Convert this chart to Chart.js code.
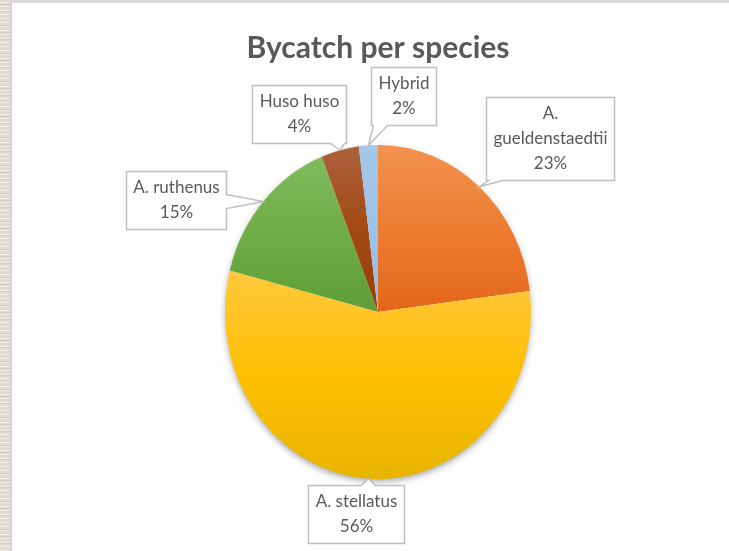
<!DOCTYPE html>
<html>
<head>
<meta charset="utf-8">
<title>Bycatch per species</title>
<script src="https://cdn.jsdelivr.net/npm/chart.js"></script>
<style>
  html, body { margin: 0; padding: 0; background: #fefefe; }
  #wrap { position: relative; width: 729px; height: 551px; overflow: hidden; }
  /* textured slide edge on the left */
  #strip {
    position: absolute; left: 0; top: 0; width: 10px; height: 551px;
    background-color: #e2dad0;
    background-image:
      repeating-linear-gradient(0deg, rgba(255,255,255,0.55) 0px, rgba(255,255,255,0.55) 1px, transparent 1px, transparent 4px),
      repeating-linear-gradient(0deg, rgba(170,160,150,0.25) 0px, rgba(170,160,150,0.25) 1px, transparent 1px, transparent 7px);
    border-right: 2px solid #d5d5d5;
  }
  #topline { position: absolute; left: 12px; top: 0; width: 717px; height: 3px; background: #dadada; }
  canvas { position: absolute; left: 0; top: 0; }
</style>
</head>
<body>
<div id="wrap">
  <div id="strip"></div>
  <div id="topline"></div>
  <canvas id="pie-chartcanvas" width="729" height="551"></canvas>
</div>
<script>
// pie chart data
var categories = ["A. gueldenstaedtii", "A. stellatus", "A. ruthenus", "Huso huso", "Hybrid"];
var bycatch = [23, 56, 15, 4, 2];

// slice colours (office style light-top / dark-bottom gradient)
var topColors = ["#F3924F", "#FFC83F", "#80BB5E", "#AC613F", "#A5C8E9"];
var midColors = ["#ED7D31", "#FFC000", "#6FAD46", "#A24A12", "#9DC3E6"];
var bottomColors = ["#E2661A", "#E8B400", "#5F9E36", "#983E05", "#95BDE3"];

// callout box centre, relative to the point on the pie edge
var labelOffsets = [[71, -48], [-12, 35], [-87, -2], [-41, -36], [35, -49]];

// the pie in the picture is a bit taller than wide
var ySquash = 167 / 153;

var ellipsePie = {
  id: 'ellipsePie',
  beforeDatasetsDraw: function(chart) {
    var ctx = chart.ctx;
    var arcs = chart.getDatasetMeta(0).data;
    var cx = arcs[0].x, cy = arcs[0].y, r = arcs[0].outerRadius;

    // soft shadow under the pie
    ctx.save();
    ctx.shadowColor = 'rgba(0,0,0,0.4)';
    ctx.shadowBlur = 7;
    ctx.shadowOffsetY = 3;
    ctx.fillStyle = '#ffffff';
    ctx.beginPath();
    ctx.ellipse(cx, cy, r - 1, r * ySquash - 1, 0, 0, Math.PI * 2);
    ctx.fill();
    ctx.restore();

    // vertical gradient for every slice over its own height
    arcs.forEach(function(arc, i) {
      var ys = [cy, cy + r * Math.sin(arc.startAngle), cy + r * Math.sin(arc.endAngle)];
      [-Math.PI / 2, Math.PI / 2, Math.PI * 1.5].forEach(function(a) {
        if (a >= arc.startAngle && a <= arc.endAngle) ys.push(cy + r * Math.sin(a));
      });
      var y0 = Math.min.apply(null, ys), y1 = Math.max.apply(null, ys);
      var g = ctx.createLinearGradient(0, y0, 0, y1);
      g.addColorStop(0, topColors[i]);
      g.addColorStop(0.5, midColors[i]);
      g.addColorStop(1, bottomColors[i]);
      arc.options.backgroundColor = g;
    });

    ctx.save();
    ctx.translate(cx, cy);
    ctx.scale(1, ySquash);
    ctx.translate(-cx, -cy);
  },
  afterDatasetsDraw: function(chart) {
    chart.ctx.restore();
  }
};

function wrapText(ctx, text, maxW) {
  if (ctx.measureText(text).width <= maxW) return [text];
  var words = text.split(' '), lines = [], cur = '';
  words.forEach(function(w) {
    var t = cur ? cur + ' ' + w : w;
    if (cur && ctx.measureText(t).width > maxW) { lines.push(cur); cur = w; }
    else cur = t;
  });
  if (cur) lines.push(cur);
  return lines;
}

function drawCallout(ctx, bx, by, w, h, ax, ay) {
  var t = 14, pts = [];
  var edge;
  if (ay > by + h) edge = 'bottom';
  else if (ay < by) edge = 'top';
  else if (ax > bx + w) edge = 'right';
  else edge = 'left';
  var cxp = Math.min(Math.max(ax, bx + t / 2 + 2), bx + w - t / 2 - 2);
  var cyp = Math.min(Math.max(ay, by + t / 2 + 2), by + h - t / 2 - 2);

  pts.push([bx, by]);
  if (edge === 'top') pts.push([cxp - t / 2, by], [ax, ay], [cxp + t / 2, by]);
  pts.push([bx + w, by]);
  if (edge === 'right') pts.push([bx + w, cyp - t / 2], [ax, ay], [bx + w, cyp + t / 2]);
  pts.push([bx + w, by + h]);
  if (edge === 'bottom') pts.push([cxp + t / 2, by + h], [ax, ay], [cxp - t / 2, by + h]);
  pts.push([bx, by + h]);
  if (edge === 'left') pts.push([bx, cyp + t / 2], [ax, ay], [bx, cyp - t / 2]);

  ctx.beginPath();
  pts.forEach(function(p, k) {
    if (k === 0) ctx.moveTo(p[0], p[1]); else ctx.lineTo(p[0], p[1]);
  });
  ctx.closePath();
  ctx.fillStyle = '#ffffff';
  ctx.fill();
  ctx.lineWidth = 1.5;
  ctx.strokeStyle = '#BFBFBF';
  ctx.stroke();
}

var calloutLabels = {
  id: 'calloutLabels',
  afterDraw: function(chart) {
    var ctx = chart.ctx;
    var arcs = chart.getDatasetMeta(0).data;
    var total = bycatch.reduce(function(a, b) { return a + b; }, 0);
    var lineH = 25;
    ctx.save();
    ctx.font = '17px Lato';
    arcs.forEach(function(arc, i) {
      var mid = (arc.startAngle + arc.endAngle) / 2;
      var ax = arc.x + arc.outerRadius * Math.cos(mid);
      var ay = arc.y + arc.outerRadius * ySquash * Math.sin(mid);
      var lines = wrapText(ctx, categories[i], 112);
      lines.push(Math.round(bycatch[i] / total * 100) + '%');
      var tw = 0;
      lines.forEach(function(l) { tw = Math.max(tw, ctx.measureText(l).width); });
      var w = Math.round(tw + 14), h = lines.length * lineH + 8;
      var bx = Math.round(ax + labelOffsets[i][0] - w / 2) + 0.5;
      var by = Math.round(ay + labelOffsets[i][1] - h / 2) + 0.5;
      drawCallout(ctx, bx, by, w, h, ax, ay);
      ctx.fillStyle = '#595959';
      ctx.textAlign = 'center';
      ctx.textBaseline = 'middle';
      lines.forEach(function(l, k) {
        ctx.fillText(l, bx + w / 2, by + 4 + lineH * (k + 0.5));
      });
    });
    ctx.restore();
  }
};

var ctx1 = document.getElementById('pie-chartcanvas');

var data1 = {
  labels: categories,
  datasets: [
    {
      label: "Bycatch",
      data: bycatch,
      backgroundColor: midColors,
      borderWidth: 0
    }
  ]
};

// options
var options = {
  responsive: false,
  animation: false,
  layout: {
    padding: { top: 30, bottom: 86, left: 225, right: 198 }
  },
  plugins: {
    title: {
      display: true,
      text: "Bycatch per species",
      color: "#595959",
      font: { family: "Lato", size: 30, weight: "bold", lineHeight: 1.2 },
      padding: { top: 0, bottom: 93 }
    },
    legend: { display: false },
    tooltip: { enabled: false }
  }
};

var chart1 = new Chart(ctx1, {
  type: 'pie',
  data: data1,
  options: options,
  plugins: [ellipsePie, calloutLabels]
});
</script>
</body>
</html>
